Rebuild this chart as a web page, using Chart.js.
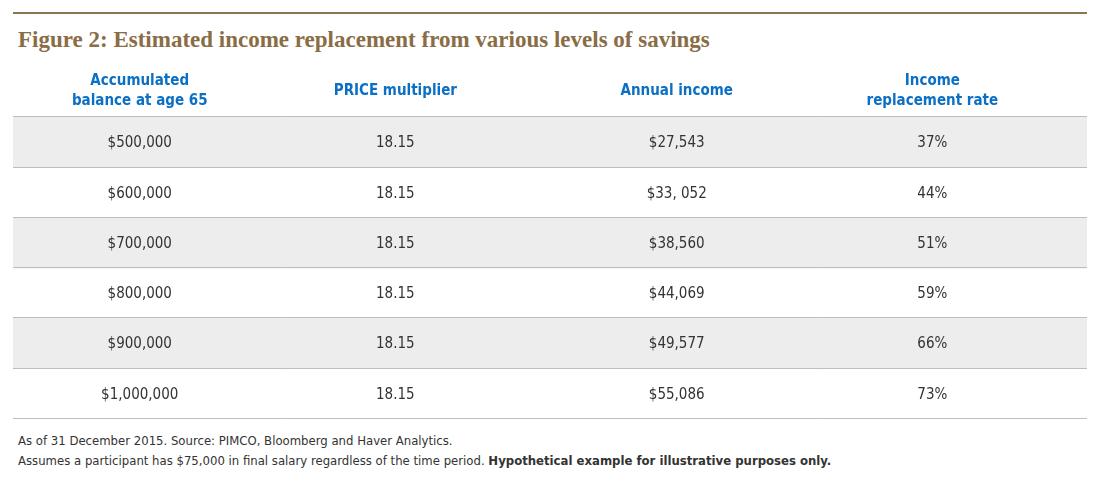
<!DOCTYPE html>
<html lang="en">
<head>
  <meta charset="UTF-8">
  <title>Figure 2: Estimated income replacement from various levels of savings</title>
  <script src="https://cdn.jsdelivr.net/npm/chart.js"></script>
  <style>
    body { margin: 0; background: #fff; width: 1100px; height: 489px; position: relative; overflow: hidden; }
    .rule { position: absolute; left: 13px; top: 12px; width: 1074px; height: 2px; background: #8b7550; }
    h1 { position: absolute; left: 18px; top: 27px; margin: 0; font: bold 23px 'Liberation Serif', serif; color: #8a6c45; white-space: nowrap; }
    .wrap { position: absolute; left: 13px; top: 67px; width: 1074px; height: 352px; }
    .notes { position: absolute; left: 18px; top: 431px; font: 13px 'Liberation Sans Narrow', 'DejaVu Sans Condensed', sans-serif; color: #333; line-height: 20px; }
    .notes b { font-weight: bold; }
  </style>
</head>
<body>

<div class="rule"></div>
<h1>Figure 2: Estimated income replacement from various levels of savings</h1>
<div class="wrap"><canvas id="tbl"></canvas></div>
<div class="notes">
  As of 31 December 2015. Source: PIMCO, Bloomberg and Haver Analytics.<br>
  Assumes a participant has $75,000 in final salary regardless of the time period. <b>Hypothetical example for illustrative purposes only.</b>
</div>

<script>
  // table contents
  const headers = [['Accumulated', 'balance at age 65'], ['PRICE multiplier'], ['Annual income'], ['Income', 'replacement rate']];
  const balances = ['$500,000', '$600,000', '$700,000', '$800,000', '$900,000', '$1,000,000'];
  const multipliers = ['18.15', '18.15', '18.15', '18.15', '18.15', '18.15'];
  const incomes = ['$27,543', '$33, 052', '$38,560', '$44,069', '$49,577', '$55,086'];
  const rates = ['37%', '44%', '51%', '59%', '66%', '73%'];

  const columns = [balances, multipliers, incomes, rates];
  const rowLabels = ['header'].concat(balances);

  // layout: column centres on a 0..1 x scale
  const colX = [0.118, 0.356, 0.618, 0.856];
  const bodyFont = "'Liberation Sans Narrow', 'DejaVu Sans Condensed', sans-serif";

  const tablePlugin = {
    id: 'tableText',
    afterDatasetsDraw(chart) {
      const { ctx, scales: { x, y }, chartArea } = chart;
      const half = (y.getPixelForValue(1) - y.getPixelForValue(0)) / 2;

      // row rules
      ctx.save();
      ctx.strokeStyle = '#bdbdbd';
      ctx.lineWidth = 1;
      for (let i = 0; i < rowLabels.length; i++) {
        const yy = Math.round(y.getPixelForValue(i) + half) - 0.5;
        ctx.beginPath();
        ctx.moveTo(chartArea.left, yy);
        ctx.lineTo(chartArea.right, yy);
        ctx.stroke();
      }

      ctx.textAlign = 'center';
      ctx.textBaseline = 'middle';

      // header
      ctx.fillStyle = '#0b6fc4';
      ctx.font = 'bold 15px ' + bodyFont;
      headers.forEach((lines, c) => {
        const cx = x.getPixelForValue(colX[c]);
        const cy = y.getPixelForValue(0);
        lines.forEach((t, k) => {
          ctx.fillText(t, cx, cy + (k - (lines.length - 1) / 2) * 20 - 1);
        });
      });

      // body cells
      ctx.fillStyle = '#333';
      ctx.font = '15px ' + bodyFont;
      columns.forEach((vals, c) => {
        const cx = x.getPixelForValue(colX[c]);
        vals.forEach((v, r) => ctx.fillText(v, cx, y.getPixelForValue(r + 1) + 1));
      });
      ctx.restore();
    }
  };

  new Chart(document.getElementById('tbl'), {
    type: 'bar',
    data: {
      labels: rowLabels,
      datasets: [{
        data: rowLabels.map((l, i) => (i % 2 === 1 ? [0, 1] : null)),
        backgroundColor: '#ededed',
        barPercentage: 1,
        categoryPercentage: 1,
        borderWidth: 0
      }]
    },
    options: {
      indexAxis: 'y',
      responsive: true,
      maintainAspectRatio: false,
      animation: false,
      layout: { padding: 0 },
      plugins: { legend: { display: false }, tooltip: { enabled: false }, title: { display: false } },
      scales: {
        x: { type: 'linear', min: 0, max: 1, display: false },
        y: { type: 'category', display: false }
      }
    },
    plugins: [tablePlugin]
  });
</script>

</body>
</html>
